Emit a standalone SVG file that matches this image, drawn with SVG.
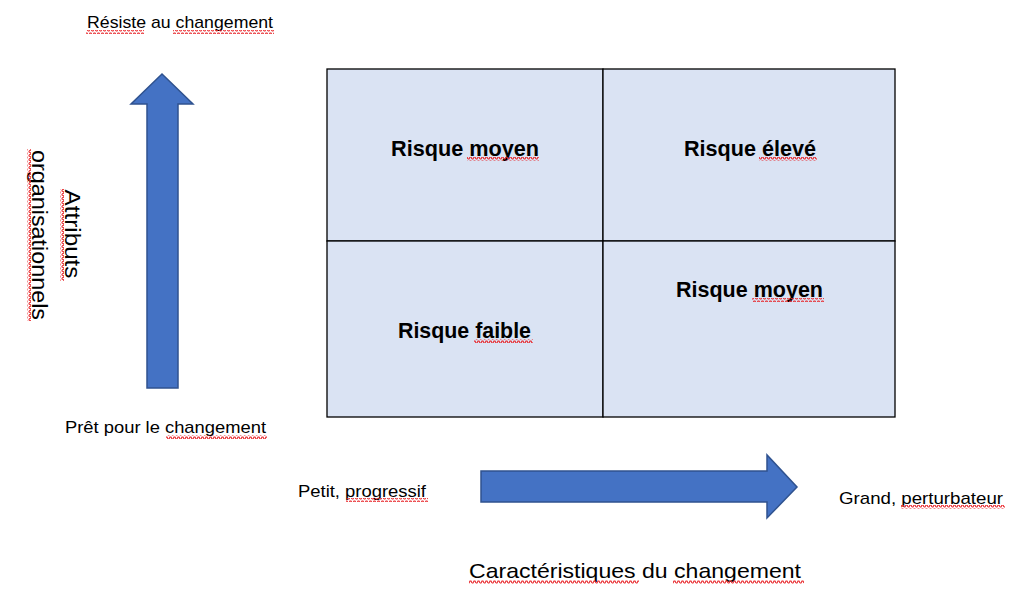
<svg xmlns="http://www.w3.org/2000/svg" width="1011" height="605" viewBox="0 0 1011 605">
<defs>
  <pattern id="wave" patternUnits="userSpaceOnUse" width="4" height="4">
    <polyline points="0,3 1,3 2,1 3,1 4,3" fill="none" stroke="#e8262a" stroke-width="1.1"/>
  </pattern>
  <style>
    .lbl { font-family: "Liberation Sans", Arial, sans-serif; font-size: 17px; fill: #000; }
    .big { font-size: 21px; }
    .axis { font-size: 22px; }
    .risk { font-family: "Liberation Sans", Arial, sans-serif; font-size: 22px; font-weight: bold; fill: #000; }
    .cell { fill: #dae3f3; stroke: #000; stroke-width: 1.3; }
    .arrow { fill: #4472c4; stroke: #2f528f; stroke-width: 1.5; }
    .sq { fill: url(#wave); }
  </style>
</defs>
<rect width="1011" height="605" fill="#fff"/>

<g id="grid">
  <rect id="cell-tl" class="cell" x="327" y="69" width="276" height="172"/>
  <rect id="cell-tr" class="cell" x="603" y="69" width="292" height="172"/>
  <rect id="cell-bl" class="cell" x="327" y="241" width="276" height="176"/>
  <rect id="cell-br" class="cell" x="603" y="241" width="292" height="176"/>
</g>

<g id="risk-tl">
  <text class="risk" x="391" y="156" textLength="148" lengthAdjust="spacingAndGlyphs">Risque moyen</text>
  <rect class="sq" x="467" y="157" width="72" height="4"/>
</g>
<g id="risk-tr">
  <text class="risk" x="684" y="156" textLength="132" lengthAdjust="spacingAndGlyphs">Risque élevé</text>
  <rect class="sq" x="759" y="157" width="58" height="4"/>
</g>
<g id="risk-br">
  <text class="risk" x="676" y="297" textLength="147" lengthAdjust="spacingAndGlyphs">Risque moyen</text>
  <rect class="sq" x="752" y="298" width="72" height="4"/>
</g>
<g id="risk-bl">
  <text class="risk" x="398" y="338" textLength="133" lengthAdjust="spacingAndGlyphs">Risque faible</text>
  <rect class="sq" x="474" y="339" width="59" height="4"/>
</g>

<g id="connectors">
  <path id="arrow-up" class="arrow" d="M162,74 L193,104 L178,104 L178,388 L147,388 L147,104 L131,104 Z"/>
  <path id="arrow-right" class="arrow" d="M481,471 L767,471 L767,455 L797,487 L767,518 L767,502 L481,502 Z"/>
</g>

<g id="label-top">
  <text class="lbl" x="87" y="28" textLength="186" lengthAdjust="spacingAndGlyphs">Résiste au changement</text>
  <rect class="sq" x="86" y="30" width="58" height="4"/>
  <rect class="sq" x="173" y="30" width="101" height="4"/>
</g>
<g id="label-bottom-left">
  <text class="lbl" x="65" y="433" textLength="201" lengthAdjust="spacingAndGlyphs">Prêt pour le changement</text>
  <rect class="sq" x="166" y="435" width="101" height="4"/>
</g>
<g id="label-axis-y">
  <g transform="translate(65,234) rotate(90)">
    <text class="lbl axis" x="0" y="0" text-anchor="middle" textLength="89" lengthAdjust="spacingAndGlyphs">Attributs</text>
    <rect class="sq" x="-45" y="1" width="92" height="4"/>
  </g>
  <g transform="translate(32,235) rotate(90)">
    <text class="lbl axis" x="0" y="0" text-anchor="middle" textLength="170" lengthAdjust="spacingAndGlyphs">organisationnels</text>
    <rect class="sq" x="-86" y="1" width="172" height="4"/>
  </g>
</g>
<g id="label-small">
  <text class="lbl" x="298" y="497" textLength="128" lengthAdjust="spacingAndGlyphs">Petit, progressif</text>
  <rect class="sq" x="346" y="498" width="82" height="4"/>
</g>
<g id="label-large">
  <text class="lbl" x="839" y="504" textLength="164" lengthAdjust="spacingAndGlyphs">Grand, perturbateur</text>
  <rect class="sq" x="901" y="505" width="104" height="4"/>
</g>
<g id="label-axis-x">
  <text class="lbl big" x="469" y="578" textLength="332" lengthAdjust="spacingAndGlyphs">Caractéristiques du changement</text>
  <rect class="sq" x="469" y="580" width="170" height="4"/>
  <rect class="sq" x="673" y="580" width="131" height="4"/>
</g>
</svg>
